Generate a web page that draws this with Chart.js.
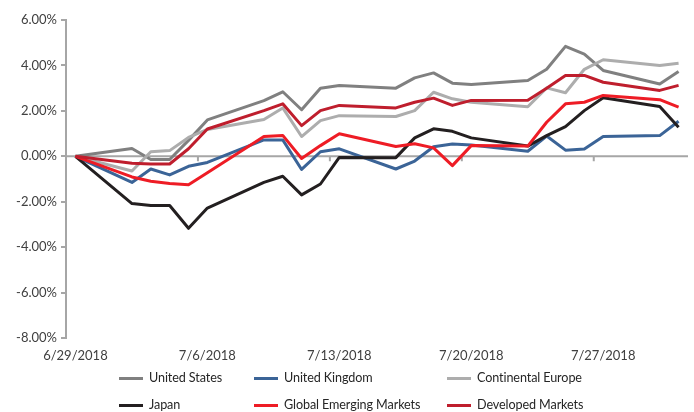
<!DOCTYPE html>
<html>
<head>
<meta charset="utf-8">
<script src="https://cdn.jsdelivr.net/npm/chart.js@4.4.0/dist/chart.umd.min.js"></script>
<style>
  html, body { margin: 0; padding: 0; background: #fff; }
  #wrap { position: relative; width: 694px; height: 412px; }
  #legend { position: absolute; left: 0; top: 0; width: 694px; height: 412px; font: 12.6px Lato, sans-serif; letter-spacing: -0.1px; color: #262626; }
  .item { position: absolute; display: flex; align-items: center; height: 16px; line-height: 16px; white-space: nowrap; }
  .swatch { width: 24px; height: 3px; margin-right: 6px; }
</style>
</head>
<body>
<div id="wrap">
  <canvas id="chart" width="694" height="412"></canvas>
  <div id="legend"></div>
</div>
<script>
// trading days shown on the chart
const dates = ['2018-06-29', '2018-07-02', '2018-07-03', '2018-07-04', '2018-07-05', '2018-07-06',
  '2018-07-09', '2018-07-10', '2018-07-11', '2018-07-12', '2018-07-13',
  '2018-07-16', '2018-07-17', '2018-07-18', '2018-07-19', '2018-07-20',
  '2018-07-23', '2018-07-24', '2018-07-25', '2018-07-26', '2018-07-27',
  '2018-07-30', '2018-07-31'];

// cumulative return, in %
const unitedStates = [0, 0.34, -0.14, -0.14, 0.7, 1.6, 2.45, 2.84, 2.05, 3.0, 3.12, 3.0, 3.45, 3.67, 3.22, 3.16, 3.34, 3.83, 4.84, 4.5, 3.78, 3.18, 3.73];
const unitedKingdom = [0, -1.15, -0.56, -0.82, -0.44, -0.27, 0.72, 0.72, -0.58, 0.2, 0.33, -0.56, -0.21, 0.42, 0.54, 0.5, 0.22, 0.89, 0.27, 0.32, 0.87, 0.91, 1.54];
const continentalEurope = [0, -0.65, 0.2, 0.25, 0.83, 1.18, 1.62, 2.13, 0.87, 1.57, 1.79, 1.75, 2.01, 2.82, 2.53, 2.38, 2.18, 3.01, 2.8, 3.83, 4.25, 4.0, 4.1];
const japan = [0, -2.08, -2.17, -2.17, -3.17, -2.28, -1.15, -0.88, -1.7, -1.22, -0.05, -0.06, 0.81, 1.21, 1.1, 0.81, 0.45, 0.91, 1.31, 2.01, 2.58, 2.19, 1.28];
const emergingMarkets = [0, -0.91, -1.1, -1.2, -1.25, -0.72, 0.87, 0.92, -0.1, 0.47, 0.99, 0.43, 0.55, 0.37, -0.41, 0.47, 0.45, 1.5, 2.31, 2.38, 2.68, 2.49, 2.16];
const developedMarkets = [0, -0.31, -0.34, -0.34, 0.33, 1.2, 2.01, 2.31, 1.35, 2.01, 2.24, 2.13, 2.38, 2.56, 2.24, 2.46, 2.47, 3.0, 3.56, 3.56, 3.26, 2.9, 3.12];

const seriesNames = ['United States', 'United Kingdom', 'Continental Europe', 'Japan', 'Global Emerging Markets', 'Developed Markets'];
const seriesValues = [unitedStates, unitedKingdom, continentalEurope, japan, emergingMarkets, developedMarkets];
const seriesColors = ['#808080', '#3B6497', '#ADADAD', '#231F20', '#EE1C25', '#BF1E2D'];

// x axis labels, weekly
const tickDates = ['2018-06-29', '2018-07-06', '2018-07-13', '2018-07-20', '2018-07-27'];
const tickLabels = ['6/29/2018', '7/6/2018', '7/13/2018', '7/20/2018', '7/27/2018'];

const axisColor = '#A6A6A6';
const textColor = '#404040';
const font = { family: 'Lato', size: 13 };

// days since the first date
const day0 = Date.parse(dates[0]);
const toDay = (d) => Math.round((Date.parse(d) - day0) / 86400000);
const tickDays = tickDates.map(toDay);

// Excel-style horizontal axis through 0, with week-boundary tick marks
const zeroAxis = {
  id: 'zeroAxis',
  beforeDatasetsDraw(chart) {
    const { ctx, scales: { x, y } } = chart;
    const y0 = y.getPixelForValue(0);
    ctx.save();
    ctx.strokeStyle = axisColor;
    ctx.lineWidth = 2;
    ctx.beginPath();
    ctx.moveTo(x.left, y0);
    ctx.lineTo(x.right, y0);
    tickDays.slice(1).forEach((d) => {
      const px = x.getPixelForValue(d - 0.5);
      ctx.moveTo(px, y0 - 1);
      ctx.lineTo(px, y0 + 5);
    });
    ctx.stroke();
    ctx.restore();
  }
};

const datasets = seriesNames.map((name, i) => ({
  label: name,
  data: seriesValues[i].map((v, k) => ({ x: toDay(dates[k]), y: v })),
  borderColor: seriesColors[i],
  backgroundColor: seriesColors[i],
  borderWidth: 3,
  borderJoinStyle: 'round',
  pointRadius: 0,
  tension: 0,
  order: seriesNames.length - i
}));

new Chart(document.getElementById('chart'), {
  type: 'line',
  data: { datasets },
  options: {
    responsive: false,
    animation: false,
    layout: { padding: { top: 20, right: 6, bottom: 44, left: 0 } },
    plugins: { legend: { display: false }, tooltip: { enabled: false } },
    scales: {
      x: {
        type: 'linear',
        min: -0.5,
        max: toDay(dates[dates.length - 1]) + 0.5,
        border: { display: false },
        grid: { display: false, drawTicks: false },
        afterBuildTicks: (scale) => { scale.ticks = tickDays.map((v) => ({ value: v })); },
        afterFit: (scale) => { scale.height = 30; },
        ticks: {
          autoSkip: false,
          maxRotation: 0,
          padding: 10,
          color: textColor,
          font,
          callback: (v) => tickLabels[tickDays.indexOf(v)]
        }
      },
      y: {
        min: -8,
        max: 6,
        border: { color: axisColor, width: 2 },
        grid: { drawOnChartArea: false, color: axisColor, lineWidth: 2, tickLength: 5 },
        afterFit: (scale) => { scale.width = 66; },
        ticks: {
          stepSize: 2,
          padding: 4,
          color: textColor,
          font,
          callback: (v) => v.toFixed(2) + '%'
        }
      }
    }
  },
  plugins: [zeroAxis]
});

// legend in three fixed columns, two rows
const legendCols = [119, 254, 447];
const legendRows = [378, 405];
const legend = document.getElementById('legend');
seriesNames.forEach((name, i) => {
  const item = document.createElement('div');
  item.className = 'item';
  item.style.left = legendCols[i % 3] + 'px';
  item.style.top = (legendRows[Math.floor(i / 3)] - 8) + 'px';
  item.innerHTML = '<span class="swatch" style="background:' + seriesColors[i] + '"></span>' + name;
  legend.appendChild(item);
});
</script>
</body>
</html>
